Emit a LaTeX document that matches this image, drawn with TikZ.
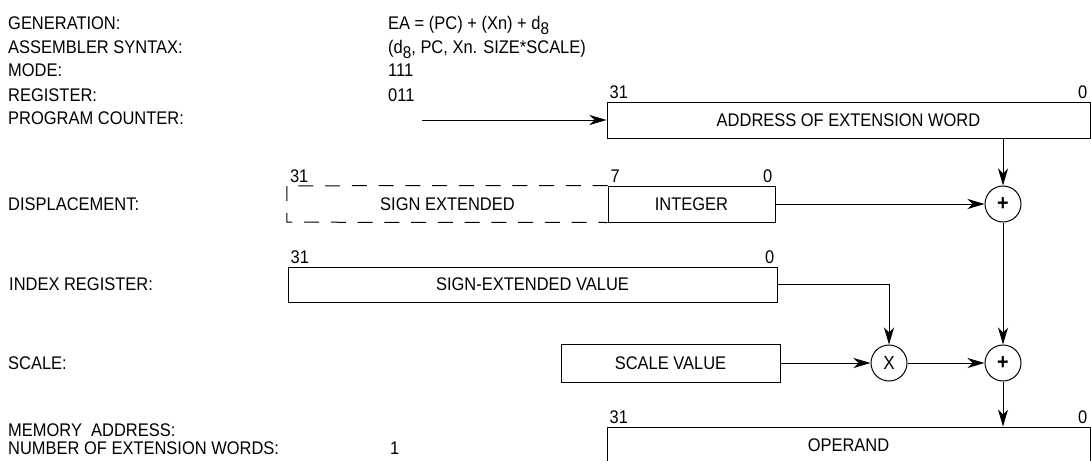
\documentclass[tikz,border=0pt]{standalone}
\usepackage{fontspec}
\setmainfont{Liberation Sans}[FakeStretch=0.9]
\usetikzlibrary{arrows.meta}
\newcommand{\deight}{d\raisebox{-4.5pt}{\fontsize{17}{17}\selectfont 8}}
\begin{document}
\begin{tikzpicture}[x=1pt, y=-1pt, >={Stealth[length=17pt,width=10pt,inset=5pt]},
  every node/.style={font=\fontsize{18.3}{20}\selectfont, inner sep=0pt},
  field/.style={draw, line width=1pt, minimum height=36pt},
  op/.style={draw, circle, line width=1pt, minimum size=36pt},
  lbl/.style={anchor=base west},
  bitl/.style={anchor=south west, inner sep=3pt},
  bitr/.style={anchor=south east, inner sep=3pt},
  dsh/.style={line width=1pt, dash pattern=on 15pt off 11.75pt},
  link/.style={->, line width=0.8pt}]
\useasboundingbox (0,0) rectangle (1091,460);

% text on the left
\node[lbl] (gen) at (8,30) {GENERATION:};
\node[lbl] (asm) at (8,54) {ASSEMBLER SYNTAX:};
\node[lbl] (mode) at (8,77) {MODE:};
\node[lbl] (reg) at (8,101) {REGISTER:};
\node[lbl] (pc) at (8,124) {PROGRAM COUNTER:};
\node[lbl] (disp) at (8,210) {DISPLACEMENT:};
\node[lbl] (idx) at (9,290) {INDEX REGISTER:};
\node[lbl] (scl) at (8,369) {SCALE:};
\node[lbl] (mem) at (8,436) {MEMORY\ \ ADDRESS:};
\node[lbl] (next) at (8,454) {NUMBER OF EXTENSION WORDS:};

\node[lbl] (genv) at (388,30) {EA = (PC) + (Xn) + \deight};
\node[lbl] (asmv) at (388,54) {(\deight, PC, Xn. SIZE*SCALE)};
\node[lbl] (modev) at (388,77) {111};
\node[lbl] (regv) at (388,101) {011};
\node[lbl] (nextv) at (390,454) {1};

% fields
\node[field, minimum width=483pt] (addr) at (848.5,120) {ADDRESS OF EXTENSION WORD};
\node[field, minimum width=167pt] (int) at (691.5,204) {INTEGER};
\node[minimum width=321pt, minimum height=36pt] (sgn) at (447.5,204) {SIGN EXTENDED};
\node[field, minimum width=489pt, minimum height=35pt] (idxv) at (532.5,284.5) {SIGN-EXTENDED VALUE};
\node[field, minimum width=219pt, minimum height=38pt] (sclv) at (670.5,363) {SCALE VALUE};
\node[field, minimum width=483pt] (opd) at (848.5,445) {OPERAND};
\draw[dsh] (int.north west) -- (sgn.north west) -- (sgn.south west) -- (int.south west);

% bit numbers
\node[bitl] at (addr.north west) {31};
\node[bitr] at (addr.north east) {0};
\node[bitl] at (sgn.north west) {31};
\node[bitl] at (int.north west) {7};
\node[bitr] at (int.north east) {0};
\node[bitl] at (idxv.north west) {31};
\node[bitr] at (idxv.north east) {0};
\node[bitl] at (opd.north west) {31};
\node[bitr] at (opd.north east) {0};

% adders
\node[op] (add1) at (1003,204) {\fontsize{22}{22}\selectfont\bfseries +};
\node[op] (mul) at (889,363) {\fontsize{19}{19}\selectfont X};
\node[op] (add2) at (1003,363) {\fontsize{22}{22}\selectfont\bfseries +};

\coordinate (pcin) at (422,120);
\draw[link] (pcin) -- (addr.west);
\draw[link] (add1 |- addr.south) -- (add1.north);
\draw[link] (int.east) -- (add1.west);
\draw[link] (idxv.east) -| (mul.north);
\draw[link] (sclv.east) -- (mul.west);
\draw[link] (mul.east) -- (add2.west);
\draw[link] (add1.south) -- (add2.north);
\draw[link] (add2.south) -- (add2 |- opd.north);
\end{tikzpicture}
\end{document}
